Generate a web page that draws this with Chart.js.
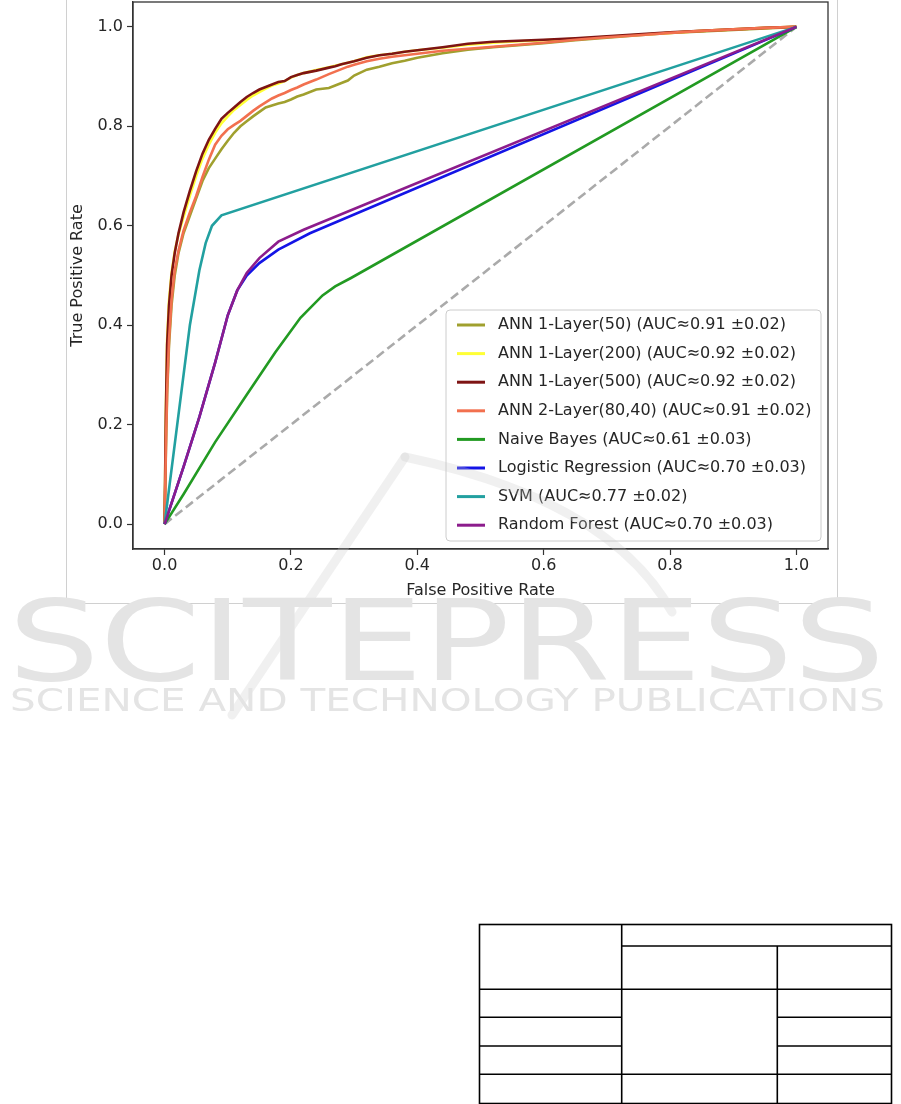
<!DOCTYPE html>
<html>
<head>
<meta charset="utf-8">
<script src="https://cdn.jsdelivr.net/npm/chart.js@4.4.0/dist/chart.umd.min.js"></script>
<style>
  html, body { margin: 0; padding: 0; background: #fff; width: 901px; height: 1104px; overflow: hidden; }
  #frame { position: absolute; left: 66px; top: -1px; width: 772px; height: 605px; border: 1px solid #d0d0d0; box-sizing: border-box; }
  #wrap { position: absolute; left: 66px; top: 0; width: 772px; height: 604px; }
  .layer { position: absolute; left: 0; top: 0; pointer-events: none; }
</style>
</head>
<body>
<div id="frame"></div>
<div id="wrap"><canvas id="roc"></canvas></div>

<!-- publisher watermark -->
<svg class="layer" width="901" height="1104">
  <g fill="none" stroke="rgba(200,200,200,0.28)" stroke-width="9" stroke-linecap="round">
    <path d="M405,457 L232,715"/>
    <path d="M405,457 Q610,500 672,612"/>
  </g>
  <text x="8" y="680" font-family="DejaVu Sans" font-size="112" textLength="877" lengthAdjust="spacingAndGlyphs" fill="#e4e4e4">SCITEPRESS</text>
  <text x="10" y="711" font-family="DejaVu Sans" font-size="32" textLength="875" lengthAdjust="spacingAndGlyphs" fill="#e4e4e4">SCIENCE AND TECHNOLOGY PUBLICATIONS</text>
</svg>

<!-- empty table at the bottom -->
<svg class="layer" width="901" height="1104">
  <g stroke="#000" stroke-width="1.6" fill="none">
    <rect x="479.5" y="924.5" width="412" height="179"/>
    <line x1="621.7" y1="924.5" x2="621.7" y2="1103.5"/>
    <line x1="777.3" y1="946" x2="777.3" y2="1103.5"/>
    <line x1="621.7" y1="946" x2="891.5" y2="946"/>
    <line x1="479.5" y1="989.3" x2="891.5" y2="989.3"/>
    <line x1="479.5" y1="1017.3" x2="621.7" y2="1017.3"/>
    <line x1="777.3" y1="1017.3" x2="891.5" y2="1017.3"/>
    <line x1="479.5" y1="1046" x2="621.7" y2="1046"/>
    <line x1="777.3" y1="1046" x2="891.5" y2="1046"/>
    <line x1="479.5" y1="1074.3" x2="891.5" y2="1074.3"/>
  </g>
</svg>

<script>
// Tick labels
const X_TICKS = [0, 0.2, 0.4, 0.6, 0.8, 1.0];
const Y_TICKS = [0, 0.2, 0.4, 0.6, 0.8, 1.0];

// Shared FPR grid for the four ANN curves
const ANN_FPR = [
  0, 0.002, 0.004, 0.007, 0.011, 0.016, 0.022, 0.03, 0.04,
  0.05, 0.06, 0.07, 0.08, 0.09, 0.10, 0.11, 0.12, 0.13, 0.14,
  0.15, 0.16, 0.17, 0.18, 0.19, 0.20, 0.21, 0.22, 0.24,
  0.26, 0.27, 0.28, 0.29, 0.30, 0.32, 0.34, 0.36, 0.38, 0.40,
  0.44, 0.48, 0.52, 0.56, 0.60, 0.65, 0.70, 0.75, 0.80, 0.85, 0.90, 0.95, 1.00
];
const ANN50_TPR = [
  0, 0.14, 0.26, 0.36, 0.44, 0.50, 0.545, 0.585, 0.62,
  0.655, 0.69, 0.716, 0.735, 0.754, 0.771, 0.787, 0.80, 0.81, 0.82,
  0.829, 0.838, 0.842, 0.846, 0.849, 0.854, 0.86, 0.864, 0.874,
  0.877, 0.882, 0.887, 0.892, 0.902, 0.914, 0.92, 0.927, 0.932, 0.938,
  0.947, 0.954, 0.959, 0.963, 0.967, 0.973, 0.978, 0.983, 0.988, 0.991, 0.994, 0.997, 1
];
const ANN200_TPR = [
  0, 0.23, 0.37, 0.45, 0.505, 0.548, 0.583, 0.618, 0.66,
  0.70, 0.735, 0.763, 0.787, 0.806, 0.82, 0.833, 0.843, 0.853, 0.862,
  0.869, 0.876, 0.882, 0.886, 0.891, 0.898, 0.903, 0.907, 0.913,
  0.919, 0.922, 0.925, 0.928, 0.931, 0.939, 0.943, 0.946, 0.95, 0.953,
  0.958, 0.964, 0.968, 0.971, 0.973, 0.976, 0.980, 0.984, 0.988, 0.992, 0.995, 0.998, 1
];
const ANN500_TPR = [
  0, 0.22, 0.36, 0.44, 0.50, 0.545, 0.585, 0.627, 0.67,
  0.71, 0.745, 0.773, 0.795, 0.815, 0.827, 0.838, 0.849, 0.859, 0.867,
  0.874, 0.879, 0.884, 0.889, 0.891, 0.899, 0.903, 0.907, 0.912,
  0.918, 0.921, 0.925, 0.928, 0.931, 0.938, 0.943, 0.946, 0.95, 0.953,
  0.959, 0.966, 0.970, 0.972, 0.974, 0.977, 0.981, 0.985, 0.989, 0.992, 0.995, 0.998, 1
];
const ANN2_TPR = [
  0, 0.15, 0.27, 0.37, 0.45, 0.51, 0.55, 0.59, 0.627,
  0.66, 0.698, 0.733, 0.763, 0.781, 0.794, 0.803, 0.811, 0.821, 0.831,
  0.84, 0.848, 0.856, 0.862, 0.867, 0.873, 0.878, 0.884, 0.894,
  0.905, 0.91, 0.915, 0.92, 0.924, 0.931, 0.936, 0.94, 0.943, 0.946,
  0.952, 0.956, 0.960, 0.964, 0.968, 0.974, 0.979, 0.983, 0.988, 0.992, 0.995, 0.998, 1
];

// Classic models
const NB_FPR  = [0, 0.03, 0.08, 0.13, 0.175, 0.215, 0.25, 0.27, 0.295, 1];
const NB_TPR  = [0, 0.06, 0.165, 0.26, 0.345, 0.415, 0.46, 0.478, 0.495, 1];
const LR_FPR  = [0, 0.03, 0.055, 0.08, 0.10, 0.115, 0.13, 0.15, 0.18, 0.23, 1];
const LR_TPR  = [0, 0.115, 0.215, 0.325, 0.42, 0.47, 0.50, 0.525, 0.552, 0.585, 1];
const SVM_FPR = [0, 0.02, 0.04, 0.055, 0.065, 0.075, 0.09, 1];
const SVM_TPR = [0, 0.20, 0.40, 0.51, 0.565, 0.60, 0.621, 1];
const RF_FPR  = [0, 0.03, 0.055, 0.08, 0.10, 0.115, 0.13, 0.15, 0.18, 0.22, 1];
const RF_TPR  = [0, 0.115, 0.215, 0.325, 0.42, 0.47, 0.505, 0.535, 0.568, 0.592, 1];
const CHANCE_FPR = [0, 1];
const CHANCE_TPR = [0, 1];

const LABELS = [
  'ANN 1-Layer(50) (AUC\u22480.91 \u00b10.02)',
  'ANN 1-Layer(200) (AUC\u22480.92 \u00b10.02)',
  'ANN 1-Layer(500) (AUC\u22480.92 \u00b10.02)',
  'ANN 2-Layer(80,40) (AUC\u22480.91 \u00b10.02)',
  'Naive Bayes (AUC\u22480.61 \u00b10.03)',
  'Logistic Regression (AUC\u22480.70 \u00b10.03)',
  'SVM (AUC\u22480.77 \u00b10.02)',
  'Random Forest (AUC\u22480.70 \u00b10.03)'
];
const COLORS = ['#a0a02e', '#ffff35', '#7e1414', '#f2704f', '#229a22', '#1414e6', '#22a0a0', '#8c1c8c'];
const SERIES = [
  [ANN_FPR, ANN50_TPR], [ANN_FPR, ANN200_TPR], [ANN_FPR, ANN500_TPR], [ANN_FPR, ANN2_TPR],
  [NB_FPR, NB_TPR], [LR_FPR, LR_TPR], [SVM_FPR, SVM_TPR], [RF_FPR, RF_TPR]
];

const FONT = { family: "'DejaVu Sans', sans-serif", size: 16 };
const INK = '#262626';

const toPoints = (xs, ys) => xs.map((x, i) => ({ x: x, y: ys[i] }));

const datasets = SERIES.map((s, i) => ({
  label: LABELS[i],
  data: toPoints(s[0], s[1]),
  borderColor: COLORS[i],
  borderWidth: 2.6,
  order: -i // later curves on top, like matplotlib
}));
datasets.push({
  label: '',
  data: toPoints(CHANCE_FPR, CHANCE_TPR),
  borderColor: '#aaaaaa',
  borderWidth: 2.6,
  borderDash: [9, 4.5],
  order: 100
});

// Box around the plot area (all four spines)
const spines = {
  id: 'spines',
  afterDatasetsDraw(chart) {
    const { ctx, chartArea: a } = chart;
    ctx.save();
    ctx.strokeStyle = '#333';
    ctx.lineWidth = 1.3;
    ctx.strokeRect(a.left, a.top, a.right - a.left, a.bottom - a.top);
    ctx.restore();
  }
};

// Legend in the lower right of the plot, matplotlib style
const rocLegend = {
  id: 'rocLegend',
  afterDraw(chart) {
    const ctx = chart.ctx;
    const items = chart.data.datasets.filter(d => d.label);
    const x0 = 380, y0 = 310, w = 375, h = 231, r = 4;
    ctx.save();
    ctx.beginPath();
    ctx.moveTo(x0 + r, y0);
    ctx.arcTo(x0 + w, y0, x0 + w, y0 + h, r);
    ctx.arcTo(x0 + w, y0 + h, x0, y0 + h, r);
    ctx.arcTo(x0, y0 + h, x0, y0, r);
    ctx.arcTo(x0, y0, x0 + w, y0, r);
    ctx.closePath();
    ctx.fillStyle = 'rgba(255,255,255,0.8)';
    ctx.fill();
    ctx.strokeStyle = '#cccccc';
    ctx.lineWidth = 1;
    ctx.stroke();
    ctx.font = "16px 'DejaVu Sans', sans-serif";
    ctx.textBaseline = 'middle';
    ctx.fillStyle = INK;
    items.forEach((d, i) => {
      const cy = 325 + i * 28.6;
      ctx.beginPath();
      ctx.moveTo(x0 + 11, cy);
      ctx.lineTo(x0 + 39, cy);
      ctx.strokeStyle = d.borderColor;
      ctx.lineWidth = 3;
      ctx.stroke();
      ctx.fillText(d.label, x0 + 52, cy);
    });
    ctx.restore();
  }
};

const axisBase = {
  type: 'linear',
  min: -0.05,
  max: 1.05,
  grid: { drawOnChartArea: false, tickLength: 6, color: '#333', tickWidth: 1.2 },
  border: { color: '#333', width: 1.3 },
};

new Chart(document.getElementById('roc'), {
  type: 'line',
  data: { datasets: datasets },
  options: {
    responsive: true,
    maintainAspectRatio: false,
    animation: false,
    layout: { padding: { top: 2, right: 10, left: 0, bottom: 0 } },
    plugins: { legend: { display: false }, tooltip: { enabled: false } },
    elements: { point: { radius: 0 }, line: { tension: 0 } },
    scales: {
      x: {
        ...axisBase,
        afterBuildTicks: s => { s.ticks = X_TICKS.map(v => ({ value: v })); },
        afterFit: s => { s.height = 55; s.paddingLeft = 0; s.paddingRight = 0; },
        ticks: { color: INK, font: FONT, padding: 1, maxRotation: 0, callback: v => v.toFixed(1) },
        title: { display: true, text: 'False Positive Rate', color: INK, font: FONT, padding: { top: 0, bottom: 4 } }
      },
      y: {
        ...axisBase,
        afterBuildTicks: s => { s.ticks = Y_TICKS.map(v => ({ value: v })); },
        afterFit: s => { s.width = 67; s.paddingTop = 0; s.paddingBottom = 0; },
        ticks: { color: INK, font: FONT, padding: 4, callback: v => v.toFixed(1) },
        title: { display: true, text: 'True Positive Rate', color: INK, font: FONT, padding: { top: 2, bottom: 0 } }
      }
    }
  },
  plugins: [spines, rocLegend]
});
</script>
</body>
</html>
